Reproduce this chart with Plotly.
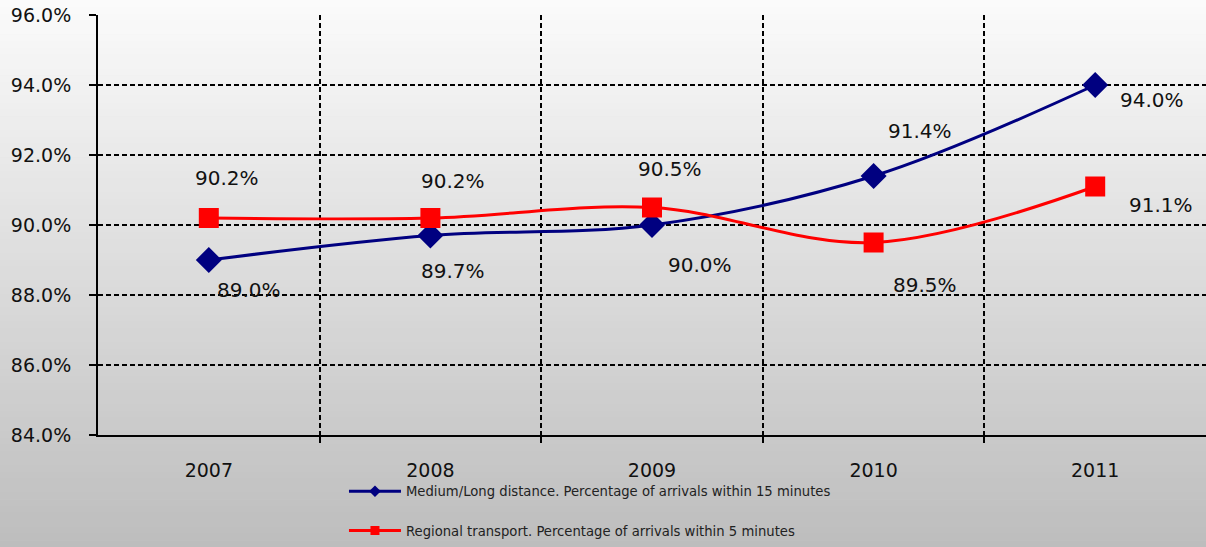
import plotly.graph_objects as go

years = ["2007", "2008", "2009", "2010", "2011"]
long_distance = [89.0, 89.7, 90.0, 91.4, 94.0]
regional = [90.2, 90.2, 90.5, 89.5, 91.1]
name_long = "Medium/Long distance. Percentage of arrivals within 15 minutes"
name_reg = "Regional transport. Percentage of arrivals within 5 minutes"

# label offsets (px) for styling
off_long = [(40, -30), (23, -35), (48, -40), (46, 45), (57, -15)]
off_reg = [(18, 40), (23, 37), (18, 39), (51, -42), (66, -18)]

FONT = "DejaVu Sans"
xs = list(range(len(years)))

fig = go.Figure()
series = [
    (long_distance, name_long, "#000080", "diamond", 20, 9, "a"),
    (regional, name_reg, "#ff0000", "square", 20, 9, "b"),
]
for vals, name, color, sym, msize, lsize, grp in series:
    fig.add_trace(go.Scatter(
        x=xs, y=vals, name=name, mode="lines+markers", showlegend=False,
        line=dict(color=color, width=3, shape="spline", smoothing=1.0),
        marker=dict(symbol=sym, size=msize, color=color), legendgroup=grp))
    # legend entry with small marker, as in the original
    fig.add_trace(go.Scatter(
        x=[None], y=[None], name=name, mode="lines+markers",
        line=dict(color=color, width=3),
        marker=dict(symbol=sym, size=lsize, color=color), legendgroup=grp))

annos = []
for vals, offs in ((long_distance, off_long), (regional, off_reg)):
    for i, v in enumerate(vals):
        annos.append(dict(x=xs[i], y=v, xref="x", yref="y", text=f"{v:.1f}%",
                          showarrow=False, xshift=offs[i][0], yshift=offs[i][1],
                          font=dict(family=FONT, size=20, color="#111")))

# background gradient stripes
shapes = []
n = 80
top_c, bot_c = 251, 189
H = 547.0
for k in range(n):
    p0 = k * H / n
    p1 = (k + 1) * H / n + 0.6
    c = int(round(top_c + (bot_c - top_c) * (k + 0.5) / n))
    shapes.append(dict(type="rect", xref="paper", yref="paper",
                       x0=-0.2, x1=1.2, y0=(435 - p1) / 420.0, y1=(435 - p0) / 420.0,
                       fillcolor=f"rgb({c},{c},{c})", line=dict(width=0), layer="below"))

fig.update_layout(
    width=1206, height=547,
    margin=dict(l=98, r=0, t=15, b=112),
    paper_bgcolor="#dcdcdc", plot_bgcolor="rgba(0,0,0,0)",
    font=dict(family=FONT, size=19, color="#111"),
    shapes=shapes, annotations=annos,
    showlegend=True,
    legend=dict(x=0.222, y=-0.098, xanchor="left", yanchor="top",
                bgcolor="rgba(0,0,0,0)", tracegroupgap=19, itemwidth=52,
                font=dict(family=FONT, size=13.2, color="#222")),
    xaxis=dict(range=[-0.5, 4.5], tickvals=xs, ticktext=years, showgrid=False,
               zeroline=False, showline=True, linecolor="black", linewidth=2,
               ticks="", ticklabelstandoff=17,
               minor=dict(tickvals=[0.5, 1.5, 2.5, 3.5], showgrid=True,
                          gridcolor="black", griddash="5px,3px", gridwidth=1.5,
                          ticks="outside", ticklen=6, tickcolor="black", tickwidth=1.5)),
    yaxis=dict(range=[84, 96], dtick=2, tick0=84, tickformat=".1f", ticksuffix="%",
               showgrid=True, gridcolor="black", griddash="5px,3px", gridwidth=1.5,
               zeroline=False, showline=True, linecolor="black", linewidth=2,
               ticks="outside", ticklen=7, tickcolor="black", tickwidth=1.5,
               ticklabelstandoff=14),
)

fig.write_html("out.html")
